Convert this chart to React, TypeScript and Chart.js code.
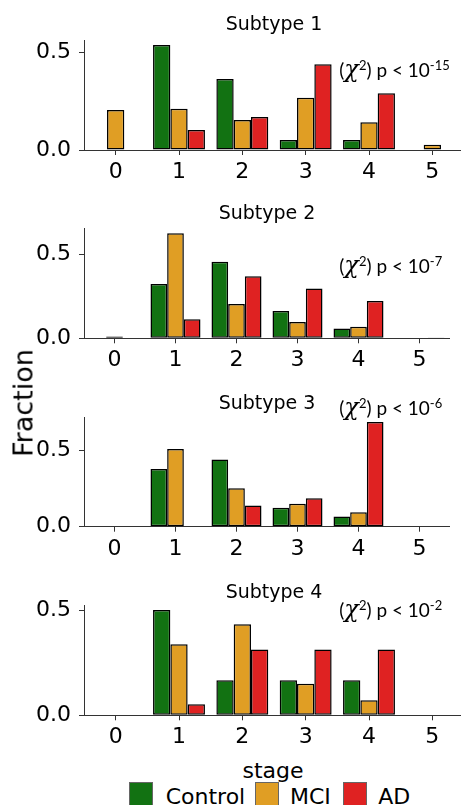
import React, { useEffect, useRef } from "react";
import { Chart, registerables } from "chart.js";
Chart.register(...registerables);

const stages = ["0", "1", "2", "3", "4", "5"];
const seriesNames = ["Control", "MCI", "AD"];
const seriesColors = ["#127212", "#E09E24", "#DF2222"];

const subtype1Control = [0, 0.539, 0.365, 0.051, 0.051, 0];
const subtype1MCI = [0.205, 0.212, 0.154, 0.269, 0.142, 0.027];
const subtype1AD = [0, 0.103, 0.169, 0.44, 0.291, 0];

const subtype2Control = [0, 0.323, 0.456, 0.163, 0.058, 0];
const subtype2MCI = [0.01, 0.625, 0.204, 0.097, 0.069, 0];
const subtype2AD = [0, 0.113, 0.369, 0.296, 0.222, 0.002];

const subtype3Control = [0, 0.378, 0.439, 0.124, 0.066, 0];
const subtype3MCI = [0, 0.509, 0.251, 0.151, 0.094, 0];
const subtype3AD = [0, 0, 0.138, 0.186, 0.686, 0];

const subtype4Control = [0, 0.5, 0.167, 0.167, 0.167, 0];
const subtype4MCI = [0, 0.337, 0.433, 0.15, 0.071, 0];
const subtype4AD = [0, 0.052, 0.3125, 0.3125, 0.3125, 0];

const yTicks = [0, 0.5];
const titles = ["Subtype 1", "Subtype 2", "Subtype 3", "Subtype 4"];
const pExponents = ["-15", "-7", "-6", "-2"];
const yMaxes = [0.565, 0.655, 0.716, 0.524];

const panelData = [
  [subtype1Control, subtype1MCI, subtype1AD],
  [subtype2Control, subtype2MCI, subtype2AD],
  [subtype3Control, subtype3MCI, subtype3AD],
  [subtype4Control, subtype4MCI, subtype4AD],
];

const layouts = [
  { top: 0, height: 190, width: 464, padTop: 40, xAxisH: 40, titleY: 29.5, noteY: 76.5 },
  { top: 190, height: 190, width: 450, padTop: 38.3, xAxisH: 41.7, titleY: 29, noteY: 82.8 },
  { top: 380, height: 190, width: 450, padTop: 37.3, xAxisH: 43.3, titleY: 29, noteY: 34.8 },
  { top: 570, height: 180, width: 464, padTop: 35, xAxisH: 34.7, titleY: 27.5, noteY: 47.2 },
];

const FONT = "'DejaVu Sans', sans-serif";
const NOTE_FONT = "Lato, sans-serif";
const AXIS_COLOR = "#333";

function drawNote(ctx: CanvasRenderingContext2D, x0: number, baseline: number, exp: string) {
  const parts = [
    { t: "(", font: `19px ${NOTE_FONT}`, dy: 0 },
    { t: "χ", font: `italic 24px 'DejaVu Serif', serif`, dy: 0 },
    { t: "2", font: `13px ${NOTE_FONT}`, dy: -7 },
    { t: ") p < 10", font: `19px ${NOTE_FONT}`, dy: 0 },
    { t: exp, font: `13px ${NOTE_FONT}`, dy: -7 },
  ];
  let x = x0;
  ctx.save();
  ctx.fillStyle = "#000";
  ctx.textAlign = "left";
  ctx.textBaseline = "alphabetic";
  for (const p of parts) {
    ctx.font = p.font;
    ctx.fillText(p.t, x, baseline + p.dy);
    x += ctx.measureText(p.t).width;
  }
  ctx.restore();
}

function Panel({ idx }: { idx: number }) {
  const ref = useRef<HTMLCanvasElement | null>(null);
  const L = layouts[idx];
  useEffect(() => {
    if (!ref.current) return;
    const data = panelData[idx];
    const chart = new Chart(ref.current, {
      type: "bar",
      data: {
        labels: stages,
        datasets: seriesNames.map((n, i) => ({
          label: n,
          data: data[i],
          backgroundColor: seriesColors[i],
          borderColor: "#000",
          borderWidth: 1.5,
          borderSkipped: false,
          categoryPercentage: 0.82,
          barPercentage: 1,
        })),
      },
      options: {
        responsive: false,
        maintainAspectRatio: false,
        animation: false,
        layout: { padding: { top: L.padTop, left: 0, right: 0, bottom: 0 } },
        plugins: {
          legend: { display: false },
          title: { display: false },
          tooltip: { enabled: false },
        },
        scales: {
          x: {
            type: "category",
            offset: true,
            grid: {
              display: true,
              drawOnChartArea: false,
              drawTicks: true,
              tickLength: 5,
              tickWidth: 1,
              tickColor: AXIS_COLOR,
              offset: false,
            },
            border: { display: true, color: AXIS_COLOR, width: 1 },
            ticks: {
              color: "#000",
              font: { family: FONT, size: 22 },
              padding: 4,
              maxRotation: 0,
              autoSkip: false,
            },
            afterFit: (s: any) => {
              s.height = L.xAxisH;
            },
          },
          y: {
            min: 0,
            max: yMaxes[idx],
            grid: {
              display: true,
              drawOnChartArea: false,
              drawTicks: true,
              tickLength: 5,
              tickWidth: 1,
              tickColor: AXIS_COLOR,
            },
            border: { display: true, color: AXIS_COLOR, width: 1 },
            ticks: {
              color: "#000",
              font: { family: FONT, size: 22 },
              padding: 8,
              callback: (v: any) => Number(v).toFixed(1),
            },
            afterBuildTicks: (s: any) => {
              s.ticks = yTicks.map((v) => ({ value: v }));
            },
            afterFit: (s: any) => {
              s.width = 84;
            },
          },
        },
      },
      plugins: [
        {
          id: "deco",
          afterDraw(c: any) {
            const ctx = c.ctx as CanvasRenderingContext2D;
            const a = c.chartArea;
            ctx.save();
            ctx.fillStyle = "#000";
            ctx.font = `19px ${FONT}`;
            ctx.textAlign = "center";
            ctx.textBaseline = "alphabetic";
            ctx.fillText(titles[idx], (a.left + a.right) / 2, L.titleY);
            ctx.restore();
            drawNote(ctx, 339.3, L.noteY, pExponents[idx]);
          },
        },
      ],
    } as any);
    return () => chart.destroy();
  }, [idx]);
  return (
    <canvas
      ref={ref}
      width={L.width}
      height={L.height}
      style={{ position: "absolute", left: 0, top: L.top, width: L.width, height: L.height }}
    />
  );
}

const legendLayout = [
  { box: 129.3, text: 165.7 },
  { box: 254.5, text: 290 },
  { box: 343.3, text: 378.3 },
];

export default function App() {
  return (
    <div
      style={{
        position: "absolute",
        left: 0,
        top: 0,
        width: 461,
        height: 805,
        overflow: "hidden",
        background: "#fff",
        fontFamily: FONT,
      }}
    >
      {titles.map((_, i) => (
        <Panel key={i} idx={i} />
      ))}
      <div style={{ position: "absolute", left: 23, top: 402.5, width: 0, height: 0 }}>
        <span
          style={{
            position: "absolute",
            left: 0,
            top: 0,
            whiteSpace: "nowrap",
            fontSize: 27,
            lineHeight: "27px",
            transform: "translate(-50%, -50%) rotate(-90deg)",
            color: "#000",
          }}
        >
          Fraction
        </span>
      </div>
      <div style={{ position: "absolute", left: 273, top: 0, width: 0, height: 0 }}>
        <span
          style={{
            position: "absolute",
            left: 0,
            top: 759.7,
            whiteSpace: "nowrap",
            fontSize: 22,
            lineHeight: "22px",
            transform: "translateX(-50%)",
            color: "#000",
          }}
        >
          stage
        </span>
      </div>
      {seriesNames.map((n, i) => (
        <React.Fragment key={n}>
          <div
            style={{
              position: "absolute",
              left: legendLayout[i].box,
              top: 781.7,
              width: 22,
              height: 24,
              background: seriesColors[i],
              border: "1px solid #666",
            }}
          />
          <span
            style={{
              position: "absolute",
              left: legendLayout[i].text,
              top: 785.7,
              whiteSpace: "nowrap",
              fontSize: 22,
              lineHeight: "22px",
              color: "#000",
            }}
          >
            {n}
          </span>
        </React.Fragment>
      ))}
    </div>
  );
}
